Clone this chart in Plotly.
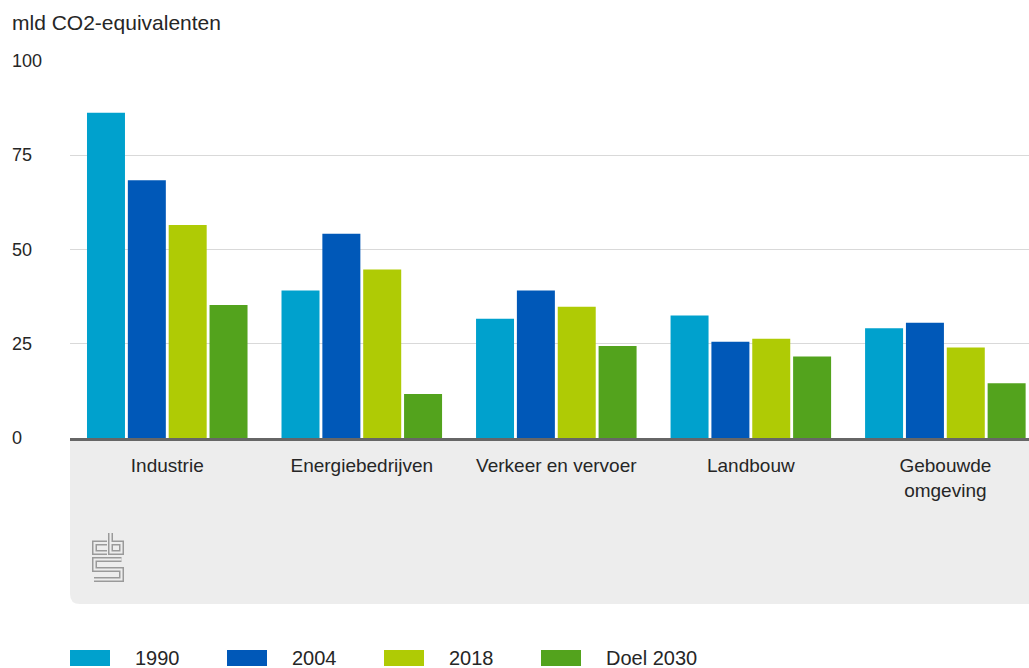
import plotly.graph_objects as go

# Broeikasgasemissie per sector (mld kg CO2-equivalenten)
categories = ["Industrie", "Energiebedrijven", "Verkeer en vervoer", "Landbouw", "Gebouwde<br>omgeving"]
series_names = ["1990", "2004", "2018", "Doel 2030"]
values_1990 = [86.3, 39.1, 31.6, 32.5, 29.1]
values_2004 = [68.4, 54.2, 39.1, 25.5, 30.6]
values_2018 = [56.5, 44.7, 34.8, 26.3, 24.0]
values_2030 = [35.3, 11.7, 24.4, 21.6, 14.5]
series_values = [values_1990, values_2004, values_2018, values_2030]
colors = ["#00a1cd", "#0058b8", "#afcb05", "#53a31d"]
y_ticks = [0, 25, 50, 75, 100]
y_title = "mld CO2-equivalenten"

W, H = 1029, 668
ML, MR, MT, MB = 70, 0, 61, 230
PW, PH = W - ML - MR, H - MT - MB
FONT = "Liberation Sans, Arial, sans-serif"
TXT = "#262626"


def px(x):
    return (x - ML) / PW


def py(y):
    return (H - MB - y) / PH


fig = go.Figure()
for name, vals, col in zip(series_names, series_values, colors):
    fig.add_trace(go.Bar(x=categories, y=vals, name=name, marker_color=col,
                         marker_line_width=0, showlegend=False))

shapes = []
# light grey band under the category axis, rounded bottom-left corner
r = 10
x0, x1, y0, y1 = ML, W + 5, H - MB, 604
band = (f"M {px(x0)},{py(y0)} L {px(x1)},{py(y0)} L {px(x1)},{py(y1)} "
        f"L {px(x0 + r)},{py(y1)} Q {px(x0)},{py(y1)} {px(x0)},{py(y1 - r)} Z")
shapes.append(dict(type="path", xref="paper", yref="paper", path=band,
                   fillcolor="#ededed", line_width=0, layer="below"))

# cbs logo drawn as outlined strokes
logo_paths = [
    [(107, 543), (94.5, 543), (94.5, 552.5), (107, 552.5)],
    [(110.5, 533), (110.5, 552.5), (121.5, 552.5), (121.5, 543), (110.5, 543)],
    [(121.5, 559.5), (94.5, 559.5), (94.5, 569.5), (121.5, 569.5), (121.5, 579.5), (94, 579.5)],
]
for pts in logo_paths:
    d = "M " + " L ".join(f"{px(a)},{py(b)}" for a, b in pts)
    shapes.append(dict(type="path", xref="paper", yref="paper", path=d,
                       line=dict(color="#9a9a9a", width=5)))
    shapes.append(dict(type="path", xref="paper", yref="paper", path=d,
                       line=dict(color="#ededed", width=2)))

annotations = []
# legend swatches and labels
leg_x0, leg_step, leg_y0, leg_y1 = 70, 157, 650, 666
for i, (name, col) in enumerate(zip(series_names, colors)):
    lx = leg_x0 + i * leg_step
    shapes.append(dict(type="rect", xref="paper", yref="paper",
                       x0=px(lx), x1=px(lx + 40), y0=py(leg_y1), y1=py(leg_y0),
                       fillcolor=col, line_width=0))
    annotations.append(dict(xref="paper", yref="paper", x=px(lx + 63), y=py(658),
                            text=name, showarrow=False, xanchor="left", yanchor="middle",
                            font=dict(family=FONT, size=20, color=TXT)))

# y tick labels, left aligned
for t in y_ticks:
    annotations.append(dict(xref="paper", yref="y", x=px(10), y=t, text=str(t),
                            showarrow=False, xanchor="left", yanchor="middle",
                            font=dict(family=FONT, size=18, color=TXT)))

annotations.append(dict(xref="paper", yref="paper", x=px(10), y=py(23), text=y_title,
                        showarrow=False, xanchor="left", yanchor="middle",
                        font=dict(family=FONT, size=21, color=TXT)))

fig.update_layout(
    width=W, height=H,
    margin=dict(l=ML, r=MR, t=MT, b=MB, pad=0),
    paper_bgcolor="white", plot_bgcolor="white",
    barmode="group", bargap=0.16, bargroupgap=0.07,
    font=dict(family=FONT, color=TXT),
    shapes=shapes, annotations=annotations,
    xaxis=dict(range=[-0.5, 4.43], showline=True, linecolor="#666666", linewidth=3,
               ticks="", tickfont=dict(size=19, color=TXT), ticklabelstandoff=8,
               showgrid=False, fixedrange=True),
    yaxis=dict(range=[0, 100], tickvals=y_ticks, showticklabels=False,
               showgrid=True, gridcolor="#d9d9d9", gridwidth=1, zeroline=False,
               fixedrange=True),
)

fig.write_html("out.html", config={"displayModeBar": False})
